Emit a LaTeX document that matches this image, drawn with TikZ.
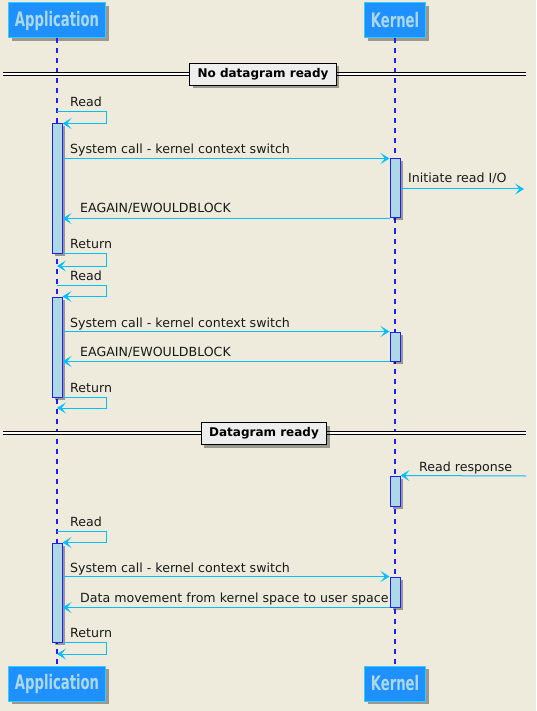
\documentclass[tikz,border=0pt]{standalone}
\usepackage{fontspec}
\setmainfont{DejaVu Sans}
\newfontfamily\partfont[FakeStretch=0.66]{DejaVu Sans}
\usetikzlibrary{arrows.meta,shadows}
\definecolor{bgpaper}{RGB}{238,235,220}
\definecolor{partfill}{RGB}{30,144,255}
\definecolor{partline}{RGB}{51,204,255}
\definecolor{parttext}{RGB}{173,216,230}
\definecolor{actfill}{RGB}{173,216,230}
\definecolor{msgblue}{RGB}{0,191,255}
\definecolor{divfill}{RGB}{238,238,238}
\definecolor{lifeblue}{RGB}{30,30,255}

\begin{document}
\begin{tikzpicture}[x=1pt, y=-1pt,
            participant/.style={draw=partline, fill=partfill, text=parttext, line width=1pt, inner sep=0pt, minimum height=35pt, font=\partfont\bfseries\fontsize{20}{20}\selectfont, drop shadow={shadow xshift=3pt, shadow yshift=-3pt, fill=black, opacity=0.35}},
            activation/.style={draw=lifeblue, fill=actfill, line width=1pt, inner sep=0pt, minimum width=10pt, drop shadow={shadow xshift=2.5pt, shadow yshift=-2.5pt, fill=black, opacity=0.35}},
            lifeline/.style={color=lifeblue, line width=1.1pt, dash pattern=on 5pt off 5pt},
            message/.style={draw=msgblue, line width=1pt, -{Stealth[length=9pt, width=11pt, inset=4.5pt]}},
            msglabel/.style={anchor=base west, inner sep=0pt, text=black!90, font=\fontsize{12.6}{14}\selectfont},
            divider/.style={draw=black, line width=0.8pt, double=white, double distance=2.2pt},
            dividerlabel/.style={draw=black, fill=divfill, line width=1.2pt, minimum height=22pt, inner xsep=8pt, font=\bfseries\fontsize{12}{14}\selectfont, drop shadow={shadow xshift=3pt, shadow yshift=-3pt, fill=black, opacity=0.35}}
        ]

        \fill[bgpaper] (0,0) rectangle (536,711);
        \useasboundingbox (0,0) rectangle (536,711);

        % Participants
        \node[participant, minimum width=97pt] (apptop) at (57,20.5) {Application};
        \node[participant, minimum width=61pt] (kerntop) at (395,20.5) {Kernel};
        \node[participant, minimum width=97pt] (appbot) at (57,683.5) {Application};
        \node[participant, minimum width=61pt] (kernbot) at (395,683.5) {Kernel};

        \draw[lifeline] (apptop.south) -- (appbot.north);
        \draw[lifeline] (kerntop.south) -- (kernbot.north);

        % Activation bars
        \node[activation, minimum height=129pt] (aact1) at (57,188.5) {};
        \node[activation, minimum height=59pt] (kact1) at (395,188.5) {};
        \node[activation, minimum height=100pt] (aact2) at (57,347) {};
        \node[activation, minimum height=29pt] (kact2) at (395,346.5) {};
        \node[activation, minimum height=30pt] (kact3) at (395,491) {};
        \node[activation, minimum height=99pt] (aact3) at (57,592.5) {};
        \node[activation, minimum height=30pt] (kact4) at (395,592) {};

        % No datagram ready
        \coordinate (div1west) at (3,74);
        \coordinate (div1east) at (526,74);
        \draw[divider] (div1west) -- (div1east);
        \node[dividerlabel] (div1) at (263,74.5) {No datagram ready};

        \coordinate (read1) at (57,112);
        \draw[message] (read1) -- ++(49,0) |- (aact1.north east);
        \node[msglabel] (read1txt) at (70,107) {Read};

        \draw[message] (aact1.east |- kact1.north) -- (kact1.north west);
        \node[msglabel] (sys1txt) at (70,154) {System call - kernel context switch};

        \coordinate (io) at (524,189);
        \draw[message] (kact1.east |- io) -- (io);
        \node[msglabel] (iotxt) at (408,183) {Initiate read I/O};

        \draw[message] (kact1.south west) -- (aact1.east |- kact1.south);
        \node[msglabel] (eag1txt) at (80,213) {EAGAIN/EWOULDBLOCK};

        \coordinate (ret1) at (57,266);
        \draw[message] (aact1.south east) -- ++(44,0) |- (ret1);
        \node[msglabel] (ret1txt) at (70,248) {Return};

        \coordinate (read2) at (57,285);
        \draw[message] (read2) -- ++(49,0) |- (aact2.north east);
        \node[msglabel] (read2txt) at (70,280) {Read};

        \draw[message] (aact2.east |- kact2.north) -- (kact2.north west);
        \node[msglabel] (sys2txt) at (70,327) {System call - kernel context switch};

        \draw[message] (kact2.south west) -- (aact2.east |- kact2.south);
        \node[msglabel] (eag2txt) at (80,356) {EAGAIN/EWOULDBLOCK};

        \coordinate (ret2) at (57,408);
        \draw[message] (aact2.south east) -- ++(44,0) |- (ret2);
        \node[msglabel] (ret2txt) at (70,392) {Return};

        % Datagram ready
        \coordinate (div2west) at (3,433);
        \coordinate (div2east) at (526,433);
        \draw[divider] (div2west) -- (div2east);
        \node[dividerlabel] (div2) at (264,433.5) {Datagram ready};

        \coordinate (resp) at (526,476);
        \draw[message] (resp) -- (kact3.north east);
        \node[msglabel] (resptxt) at (419,471) {Read response};

        \coordinate (read3) at (57,531);
        \draw[message] (read3) -- ++(49,0) |- (aact3.north east);
        \node[msglabel] (read3txt) at (70,526) {Read};

        \draw[message] (aact3.east |- kact4.north) -- (kact4.north west);
        \node[msglabel] (sys3txt) at (70,572) {System call - kernel context switch};

        \draw[message] (kact4.south west) -- (aact3.east |- kact4.south);
        \node[msglabel] (datatxt) at (80,602) {Data movement from kernel space to user space};

        \coordinate (ret3) at (57,654);
        \draw[message] (aact3.south east) -- ++(44,0) |- (ret3);
        \node[msglabel] (ret3txt) at (70,637) {Return};

    \end{tikzpicture}
\end{document}
